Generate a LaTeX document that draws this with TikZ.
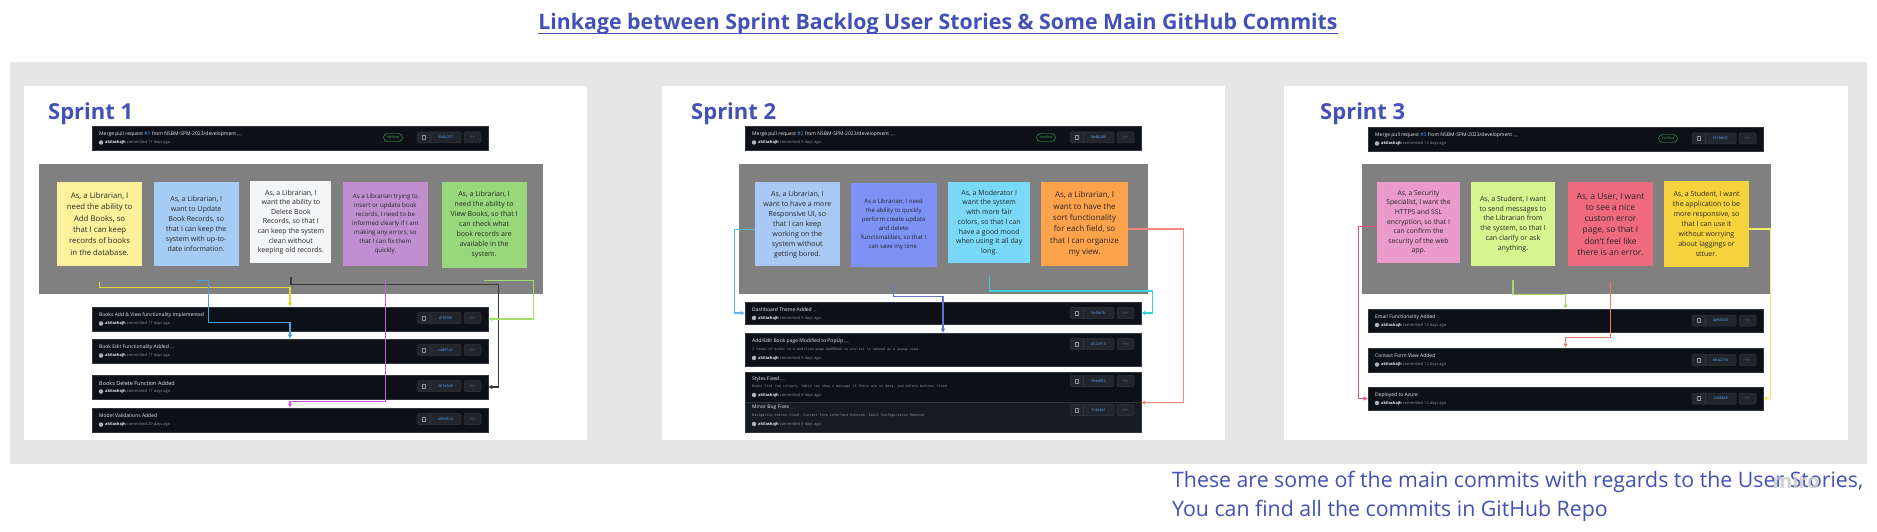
\documentclass[tikz,border=0pt]{standalone}
\usepackage{fontspec}
\setmainfont{Open Sans}
\setmonofont{DejaVu Sans Mono}
\usetikzlibrary{arrows.meta,calc,shadows,fit}

\definecolor{bgGray}{HTML}{E6E6E6}
\definecolor{areaGray}{HTML}{808080}
\definecolor{ink}{HTML}{4350B5}
\definecolor{ghbg}{HTML}{0D1117}
\definecolor{ghbgb}{HTML}{161B22}
\definecolor{ghborder}{HTML}{30363D}
\definecolor{ghbtn}{HTML}{21262D}
\definecolor{ghtext}{HTML}{E6EDF3}
\definecolor{ghmuted}{HTML}{8B949E}
\definecolor{ghblue}{HTML}{58A6FF}
\definecolor{ghgreen}{HTML}{3FB950}
\definecolor{stYellow}{HTML}{FDF29B}
\definecolor{stBlue}{HTML}{A6CBF4}
\definecolor{stWhite}{HTML}{F4F5F7}
\definecolor{stPurple}{HTML}{C18ED0}
\definecolor{stGreen}{HTML}{98D77B}
\definecolor{stLBlue}{HTML}{A7C9F3}
\definecolor{stPeri}{HTML}{7E92F6}
\definecolor{stCyan}{HTML}{7AD9F7}
\definecolor{stOrange}{HTML}{FFA24C}
\definecolor{stPink}{HTML}{EA9ACB}
\definecolor{stLime}{HTML}{D7F58F}
\definecolor{stRed}{HTML}{F06A7E}
\definecolor{stGold}{HTML}{F6D23C}
\definecolor{cYel}{HTML}{E3D630}
\definecolor{cBlu}{HTML}{4A9FE0}
\definecolor{cDark}{HTML}{3A3A3A}
\definecolor{cPur}{HTML}{CC5CDB}
\definecolor{cGrn}{HTML}{A3DE6A}
\definecolor{cLBlu}{HTML}{5DB8F2}
\definecolor{cInd}{HTML}{6674CC}
\definecolor{cCya}{HTML}{3CCFDC}
\definecolor{cSal}{HTML}{F4877A}
\definecolor{cPnk}{HTML}{E8508C}
\definecolor{cLim}{HTML}{A8D868}
\definecolor{cRed}{HTML}{EE7A6A}
\definecolor{cGold}{HTML}{F2EE6A}

\newcommand\setfs[2]{\fontsize{#1}{#2}\selectfont}
\newcommand\ellip{\,{\fboxsep=0.6pt\colorbox{ghbtn}{\textcolor{ghmuted}{\setfs{3}{3}\,\dots\,}}}}

\tikzset{
  panel/.style={fill=white, draw=none, inner sep=0pt},
  area/.style={fill=areaGray, draw=none, inner sep=0pt},
  sprint/.style={anchor=base west, inner sep=0pt, text=ink, font=\bfseries\setfs{22}{26}},
  sticky/.style={minimum width=85pt, minimum height=84pt, inner sep=0pt, align=center,
    text=black!85, drop shadow={shadow xshift=1.5pt, shadow yshift=-5pt, opacity=0.35}},
  cbox/.style={fill=ghbg, draw=ghborder, line width=0.8pt, inner sep=0pt},
  ctitle/.style={anchor=west, inner sep=0pt, text=ghtext, font=\setfs{5}{6}},
  cuser/.style={anchor=west, inner sep=0pt, text=ghmuted, font=\setfs{4}{5}},
  cdesc/.style={anchor=west, inner sep=0pt, text=ghmuted, font=\ttfamily\setfs{3.4}{4}},
  avatar/.style={circle, fill=ghmuted!70, minimum size=4.5pt, inner sep=0pt},
  cbtn/.style={fill=ghbtn, draw=ghborder, line width=0.5pt, rounded corners=1.5pt, minimum height=11pt, inner sep=0pt},
  copyicon/.style={draw=ghmuted, line width=0.4pt, minimum width=3pt, minimum height=4pt, inner sep=0pt},
  csha/.style={inner sep=0pt, text=ghblue, font=\setfs{3.8}{4}},
  cverif/.style={draw=ghgreen, line width=0.4pt, rounded corners=4pt, text=ghgreen, font=\setfs{3.5}{4}, minimum width=19pt, minimum height=8pt, inner sep=0pt},
  conn/.style={line width=1.2pt, -{Triangle[length=4pt,width=4pt]}},
}

\newcommand\ghuser[4]{%
  \node[avatar] (#1a) at (#2+2,#3) {};
  \node[cuser] (#1u) at (#2+6,#3) {\textcolor{ghtext}{\bfseries akilashajh} committed #4 days ago};}
\newcommand\ghbtns[4]{%
  \node[cbtn, minimum width=44pt] (#1g) at (#2-49,#3) {};
  \draw[ghborder, line width=0.5pt] (#2-58,#3-5.5) -- (#2-58,#3+5.5);
  \node[copyicon] (#1c) at (#2-64.5,#3) {};
  \node[csha] (#1s) at (#2-42.5,#3) {#4};
  \node[cbtn, minimum width=17pt, font=\setfs{4}{4}, text=ghmuted] (#1k) at (#2-15.5,#3) {<>};}

\begin{document}
\begin{tikzpicture}[x=1pt,y=-1pt]
\useasboundingbox (0,0) rectangle (1877,532);
\fill[white] (0,0) rectangle (1877,532);

% title
\node[anchor=base, inner sep=0pt, text=ink, font=\bfseries\setfs{21.3}{25}] (title) at (938,30)
  {Linkage between Sprint Backlog User Stories \& Some Main GitHub Commits};
\draw[ink, line width=1.3pt] ($(title.base west)+(0,3.5)$) -- ($(title.base east)+(0,3.5)$);

% background and panels
\node[area, fill=bgGray, fit={(10,62) (1867,464)}] (bg) {};
\node[panel, fit={(24,86) (587,440)}] (p1) {};
\node[panel, fit={(662,86) (1225,440)}] (p2) {};
\node[panel, fit={(1284,86) (1848,440)}] (p3) {};

\node[sprint] (sp1) at (48,120) {Sprint 1};
\node[sprint] (sp2) at (691,120) {Sprint 2};
\node[sprint] (sp3) at (1320,120) {Sprint 3};

% gray areas
\node[area, fit={(38.6,164) (543,294)}] (g1) {};
\node[area, fit={(738.7,164) (1148.2,294)}] (g2) {};
\node[area, fit={(1361.8,164) (1771.3,294)}] (g3) {};

% ---------- Sprint 1 stickies
\node[sticky, fill=stYellow, font=\setfs{7.8}{11.3}] (s1a) at (99.6,224)
  {As, a Librarian, I\\need the ability to\\Add Books, so\\that I can keep\\records of books\\in the database.};
\node[sticky, fill=stBlue, font=\setfs{7}{9.9}] (s1b) at (196.2,224)
  {As, a Librarian, I\\want to Update\\Book Records, so\\that I can keep the\\system with up-to-\\date information.};
\node[sticky, fill=stWhite, minimum width=81pt, minimum height=82pt, font=\setfs{7}{9.6}] (s1c) at (290.9,222)
  {As, a Librarian, I\\want the ability to\\Delete Book\\Records, so that I\\can keep the system\\clean without\\keeping old records.};
\node[sticky, fill=stPurple, font=\setfs{6.2}{9}] (s1d) at (385.4,224)
  {As a Librarian trying to\\insert or update book\\records, I need to be\\informed clearly if I am\\making any errors, so\\that I can fix them\\quickly.};
\node[sticky, fill=stGreen, minimum height=86pt, font=\setfs{7}{10}] (s1e) at (484.1,224.5)
  {As, a Librarian, I\\need the ability to\\View Books, so that I\\can check what\\book records are\\available in the\\system.};

% ---------- Sprint 2 stickies
\node[sticky, fill=stLBlue, font=\setfs{7.1}{10}] (s2a) at (797.3,224.2)
  {As, a Librarian, I\\want to have a more\\Responsive UI, so\\that I can keep\\working on the\\system without\\getting bored.};
\node[sticky, fill=stPeri, minimum width=85.7pt, font=\setfs{6}{8.9}] (s2b) at (893.7,224.5)
  {As a Librarian, I need\\the ability to quickly\\perform create update\\and delete\\functionalities, so that I\\can save my time.};
\node[sticky, fill=stCyan, minimum width=82.4pt, minimum height=81.6pt, font=\setfs{7}{9.7}] (s2c) at (989.2,222.5)
  {As, a Moderator I\\want the system\\with more fair\\colors, so that I can\\have a good mood\\when using it all day\\long.};
\node[sticky, fill=stOrange, minimum width=87pt, font=\setfs{8}{11.3}] (s2d) at (1084.5,224)
  {As, a Librarian, I\\want to have the\\sort functionality\\for each field, so\\that I can organize\\my view.};

% ---------- Sprint 3 stickies
\node[sticky, fill=stPink, minimum width=83pt, minimum height=81pt, font=\setfs{6.8}{9.6}] (s3a) at (1418.5,222.5)
  {As, a Security\\Specialist, I want the\\HTTPS and SSL\\encryption, so that I\\can confirm the\\security of the web\\app.};
\node[sticky, fill=stLime, minimum width=84pt, font=\setfs{7}{9.8}] (s3b) at (1513,224)
  {As, a Student, I want\\to send messages to\\the Librarian from\\the system, so that I\\can clarify or ask\\anything.};
\node[sticky, fill=stRed, font=\setfs{8.5}{11.3}] (s3c) at (1610.5,224.3)
  {As, a User, I want\\to see a nice\\custom error\\page, so that I\\don't feel like\\there is an error.};
\node[sticky, fill=stGold, minimum height=86pt, font=\setfs{7}{10}] (s3d) at (1706.5,224)
  {As, a Student, I want\\the application to be\\more responsive, so\\that I can use it\\without worrying\\about laggings or\\sttuer.};

% ---------- Sprint 1 commits
\node[cbox, fit={(92,126) (488,150)}] (m1) {};
\node[ctitle] (m1t) at (99,134) {Merge pull request \textcolor{ghblue}{\#1} from NSBM-SPM-2023/development\ellip};
\ghuser{m1}{99}{142.5}{17}
\node[cverif] (m1v) at (393,137.5) {Verified};
\ghbtns{m1}{488}{137.5}{6b0c2f7}

\node[cbox, fit={(92,307) (488,331)}] (c1a) {};
\node[ctitle] (c1at) at (99,315) {Books Add \& View functionality Implemented};
\ghuser{c1a}{99}{323.5}{17}
\ghbtns{c1a}{488}{318}{a1f29f0}

\node[cbox, fit={(92,339) (488,363)}] (c1b) {};
\node[ctitle] (c1bt) at (99,347) {Book Edit Functionality Added\ellip};
\ghuser{c1b}{99}{355.5}{17}
\ghbtns{c1b}{488}{350}{c4d81e2}

\node[cbox, fit={(92,375) (488,399)}] (c1c) {};
\node[ctitle, font=\setfs{5.5}{6}] (c1ct) at (99,383) {Books Delete Function Added};
\ghuser{c1c}{99}{391.5}{17}
\ghbtns{c1c}{488}{386}{3b7e5a9}

\node[cbox, fit={(92,408) (488,432)}] (c1d) {};
\node[ctitle] (c1dt) at (99,416) {Model Validations Added};
\ghuser{c1d}{99}{424.5}{20}
\ghbtns{c1d}{488}{419}{e08d1c4}

% ---------- Sprint 2 commits
\node[cbox, fit={(745,126) (1141,150)}] (m2) {};
\node[ctitle] (m2t) at (752,134) {Merge pull request \textcolor{ghblue}{\#2} from NSBM-SPM-2023/development\ellip};
\ghuser{m2}{752}{142.5}{3}
\node[cverif] (m2v) at (1046,137.5) {Verified};
\ghbtns{m2}{1141}{137.5}{9a4b2d6}

\node[cbox, fit={(745,302) (1141,324)}] (c2a) {};
\node[ctitle] (c2at) at (752,310) {Dashboard Theme Added\ellip};
\ghuser{c2a}{752}{318}{3}
\ghbtns{c2a}{1141}{313}{5af0e7b}

\node[cbox, fit={(745,333) (1141,366)}] (c2b) {};
\node[ctitle] (c2bt) at (752,341) {Add/Edit Book page Modified to PopUp\ellip};
\node[cdesc] (c2bd) at (752,349.5) {2 items of books to a modified page AddEBook is now set to opened as a popup view};
\ghuser{c2b}{752}{358}{3}
\ghbtns{c2b}{1141}{344}{d72c910}

\node[cbox, fit={(745,372) (1141,402)}] (c2c) {};
\node[cbox, fill=ghbgb, fit={(745,402) (1141,432)}] (c2d) {};
\node[ctitle] (c2ct) at (752,379) {Styles Fixed\ellip};
\node[cdesc] (c2cd) at (752,387) {Books list row colours, table row show a message if there are no data, and delete buttons fixed};
\ghuser{c2c}{752}{395}{3}
\ghbtns{c2c}{1141}{381}{0be4f35}
\node[ctitle] (c2dt) at (752,407.5) {Minor Bug Fixes\ellip};
\node[cdesc] (c2dd) at (752,415.5) {Navigation button fixed, Contact Form interface Removed, Email Configuration Removed};
\ghuser{c2d}{752}{424}{3}
\ghbtns{c2d}{1141}{410}{7c3a9e1}

% ---------- Sprint 3 commits
\node[cbox, fit={(1368,127) (1763,151)}] (m3) {};
\node[ctitle] (m3t) at (1375,135) {Merge pull request \textcolor{ghblue}{\#3} from NSBM-SPM-2023/development\ellip};
\ghuser{m3}{1375}{143.5}{12}
\node[cverif] (m3v) at (1668,138.5) {Verified};
\ghbtns{m3}{1763}{138.5}{f31b8d2}

\node[cbox, fit={(1368,309) (1763,332)}] (c3a) {};
\node[ctitle] (c3at) at (1375,317) {Email Functionality Added};
\ghuser{c3a}{1375}{325}{13}
\ghbtns{c3a}{1763}{320.5}{4e9d0a3}

\node[cbox, fit={(1368,348) (1763,372)}] (c3b) {};
\node[ctitle] (c3bt) at (1375,356) {Contact Form View Added};
\ghuser{c3b}{1375}{364.5}{12}
\ghbtns{c3b}{1763}{360}{b8a27c6}

\node[cbox, fit={(1368,387) (1763,410)}] (c3c) {};
\node[ctitle] (c3ct) at (1375,395) {Deployed to Azure};
\ghuser{c3c}{1375}{403}{12}
\ghbtns{c3c}{1763}{398.5}{1d6f4e8}

% ---------- connectors sprint 1
\draw[conn, cYel] ($(s1a.south)+(0,16)$) |- ($(c1a.north)+(0,-19)$) -- (c1a.north);
\draw[conn, cBlu] ($(s1b.south)+(0,14)$) -- ++(12,0) |- ($(c1b.north)+(0,-16)$) -- (c1b.north);
\draw[conn, cDark] ($(s1c.south)+(0,14)$) -- ++(0,7) -| ($(c1c.east)+(10,0)$) -- (c1c.east);
\draw[conn, cPur] ($(s1d.south)+(0,14)$) |- ($(c1d.north)+(0,-6)$) -- (c1d.north);
\draw[conn, cGrn] ($(s1e.south)+(0,13)$) -| ($(c1a.east)+(45,0)$) -- (c1a.east);

% ---------- connectors sprint 2
\coordinate (c2in) at ($(c2d.north east)+(0,1)$);
\draw[conn, cLBlu] ($(s2a.west)+(0,5)$) -| ($(c2a.west)+(-10,0)$) -- (c2a.west);
\draw[conn, cInd] ($(s2b.south)+(0,16)$) |- ($(c2b.north)+(0,-36)$) -- (c2b.north);
\draw[conn, cCya] ($(s2c.south)+(0,12)$) |- ($(c2a.east)+(11,-22)$) -- ($(c2a.east)+(11,0)$) -- (c2a.east);
\draw[conn, cSal] ($(s2d.east)+(0,5)$) -| ($(c2in)+(42,0)$) -- (c2in);

% ---------- connectors sprint 3
\draw[conn, cPnk] ($(s3a.west)+(0,4)$) -| ($(c3c.west)+(-9,0)$) -- (c3c.west);
\draw[conn, cLim] ($(s3b.south)+(0,14)$) |- ($(c3a.north)+(0,-14)$) -- (c3a.north);
\draw[conn, cRed] ($(s3c.south)+(0,15)$) |- ($(c3b.north)+(0,-10)$) -- (c3b.north);
\draw[conn, cGold] ($(s3d.east)+(0,5)$) -| ($(c3c.east)+(7,0)$) -- (c3c.east);

% ---------- footer
\node[anchor=base west, inner sep=0pt, text=ink, font=\setfs{21.3}{25}] (note1) at (1172,487)
  {These are some of the main commits with regards to the User Stories,};
\node[anchor=base west, inner sep=0pt, text=ink, font=\setfs{21.3}{25}] (note2) at (1172,516)
  {You can find all the commits in GitHub Repo};
\node[inner sep=0pt, text=gray!40, opacity=0.85, font=\bfseries\setfs{20}{24}] (miro) at (1796,481) {miro};
\end{tikzpicture}
\end{document}
